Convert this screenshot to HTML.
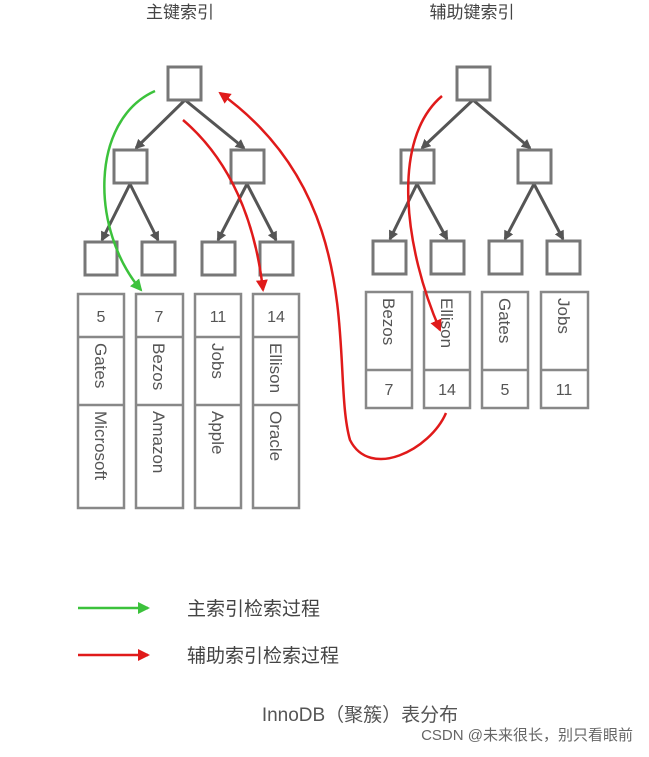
<!DOCTYPE html>
<html><head><meta charset="utf-8"><style>
body{margin:0;background:#fff}
svg text{font-family:"Liberation Sans","Noto Sans CJK SC",sans-serif}
</style></head><body>
<svg width="649" height="752" viewBox="0 0 649 752" xmlns="http://www.w3.org/2000/svg">
<defs>
<marker id="ag" markerWidth="10" markerHeight="10" refX="8" refY="5" orient="auto" markerUnits="userSpaceOnUse"><path d="M0,0 L10,5 L0,10 z" fill="#555"/></marker>
<marker id="gr" markerWidth="12" markerHeight="12" refX="10" refY="6" orient="auto" markerUnits="userSpaceOnUse"><path d="M0,0 L12,6 L0,12 z" fill="#3cc23c"/></marker>
<marker id="rd" markerWidth="12" markerHeight="12" refX="10" refY="6" orient="auto" markerUnits="userSpaceOnUse"><path d="M0,0 L12,6 L0,12 z" fill="#e01a1a"/></marker>
</defs>
<text x="180" y="18" font-size="17" fill="#444" text-anchor="middle">主键索引</text>
<text x="472" y="18" font-size="17" fill="#444" text-anchor="middle">辅助键索引</text>
<g stroke="#555" stroke-width="3" fill="none" marker-end="url(#ag)">
<line x1="185" y1="100" x2="136" y2="148"/><line x1="185" y1="100" x2="244" y2="148"/>
<line x1="130" y1="184" x2="102" y2="240"/><line x1="130" y1="184" x2="158" y2="240"/>
<line x1="247" y1="184" x2="218" y2="240"/><line x1="247" y1="184" x2="276" y2="240"/>
<line x1="473" y1="100" x2="422" y2="148"/><line x1="473" y1="100" x2="530" y2="148"/>
<line x1="417" y1="184" x2="390" y2="239"/><line x1="417" y1="184" x2="447" y2="239"/>
<line x1="534" y1="184" x2="505" y2="239"/><line x1="534" y1="184" x2="563" y2="239"/>
</g>
<g fill="#fff" stroke="#777" stroke-width="3">
<rect x="168" y="67" width="33" height="33"/>
<rect x="114" y="150" width="33" height="33"/><rect x="231" y="150" width="33" height="33"/>
<rect x="85" y="242" width="32" height="33"/><rect x="142" y="242" width="33" height="33"/><rect x="202" y="242" width="33" height="33"/><rect x="260" y="242" width="33" height="33"/>
<rect x="457" y="67" width="33" height="33"/>
<rect x="401" y="150" width="33" height="33"/><rect x="518" y="150" width="33" height="33"/>
<rect x="373" y="241" width="33" height="33"/><rect x="431" y="241" width="33" height="33"/><rect x="489" y="241" width="33" height="33"/><rect x="547" y="241" width="33" height="33"/>
</g>
<g fill="#fff" stroke="#888" stroke-width="2.5">
<rect x="78" y="294" width="46" height="214"/><rect x="136" y="294" width="47" height="214"/><rect x="195" y="294" width="46" height="214"/><rect x="253" y="294" width="46" height="214"/>
<line x1="78" y1="337" x2="124" y2="337"/><line x1="78" y1="405" x2="124" y2="405"/>
<line x1="136" y1="337" x2="183" y2="337"/><line x1="136" y1="405" x2="183" y2="405"/>
<line x1="195" y1="337" x2="241" y2="337"/><line x1="195" y1="405" x2="241" y2="405"/>
<line x1="253" y1="337" x2="299" y2="337"/><line x1="253" y1="405" x2="299" y2="405"/>
<rect x="366" y="292" width="46" height="116"/><rect x="424" y="292" width="46" height="116"/><rect x="482" y="292" width="46" height="116"/><rect x="541" y="292" width="47" height="116"/>
<line x1="366" y1="370" x2="412" y2="370"/><line x1="424" y1="370" x2="470" y2="370"/><line x1="482" y1="370" x2="528" y2="370"/><line x1="541" y1="370" x2="588" y2="370"/>
</g>
<g font-size="16" fill="#555" text-anchor="middle">
<text x="101" y="322">5</text><text x="159" y="322">7</text><text x="218" y="322">11</text><text x="276" y="322">14</text>
<text x="389" y="395">7</text><text x="447" y="395">14</text><text x="505" y="395">5</text><text x="564" y="395">11</text>
</g>
<g font-size="17" fill="#555">
<text transform="translate(95,343) rotate(90)">Gates</text>
<text transform="translate(95,411) rotate(90)">Microsoft</text>
<text transform="translate(153,343) rotate(90)">Bezos</text>
<text transform="translate(153,411) rotate(90)">Amazon</text>
<text transform="translate(212,343) rotate(90)">Jobs</text>
<text transform="translate(212,411) rotate(90)">Apple</text>
<text transform="translate(270,343) rotate(90)">Ellison</text>
<text transform="translate(270,411) rotate(90)">Oracle</text>
<text transform="translate(383,298) rotate(90)">Bezos</text>
<text transform="translate(441,298) rotate(90)">Ellison</text>
<text transform="translate(499,298) rotate(90)">Gates</text>
<text transform="translate(558,298) rotate(90)">Jobs</text>
</g>
<g fill="none" stroke-width="2.5">
<path d="M155,91 C90,120 90,230 141,290" stroke="#3cc23c" marker-end="url(#gr)"/>
<path d="M183,120 C230,160 255,220 263,290" stroke="#e01a1a" marker-end="url(#rd)"/>
<path d="M442,96 C390,140 405,250 440,330" stroke="#e01a1a" marker-end="url(#rd)"/>
<path d="M446,413 C430,450 370,480 350,440 C330,370 370,200 220,93" stroke="#e01a1a" marker-end="url(#rd)"/>
<line x1="78" y1="608" x2="148" y2="608" stroke="#3cc23c" marker-end="url(#gr)"/>
<line x1="78" y1="655" x2="148" y2="655" stroke="#e01a1a" marker-end="url(#rd)"/>
</g>
<text x="187" y="615" font-size="19" fill="#444">主索引检索过程</text>
<text x="187" y="662" font-size="19" fill="#444">辅助索引检索过程</text>
<text x="360" y="721" font-size="19" fill="#555" text-anchor="middle">InnoDB（聚簇）表分布</text>
<text x="633" y="740" font-size="15" fill="#666" text-anchor="end">CSDN @未来很长，别只看眼前</text>
</svg>
</body></html>
